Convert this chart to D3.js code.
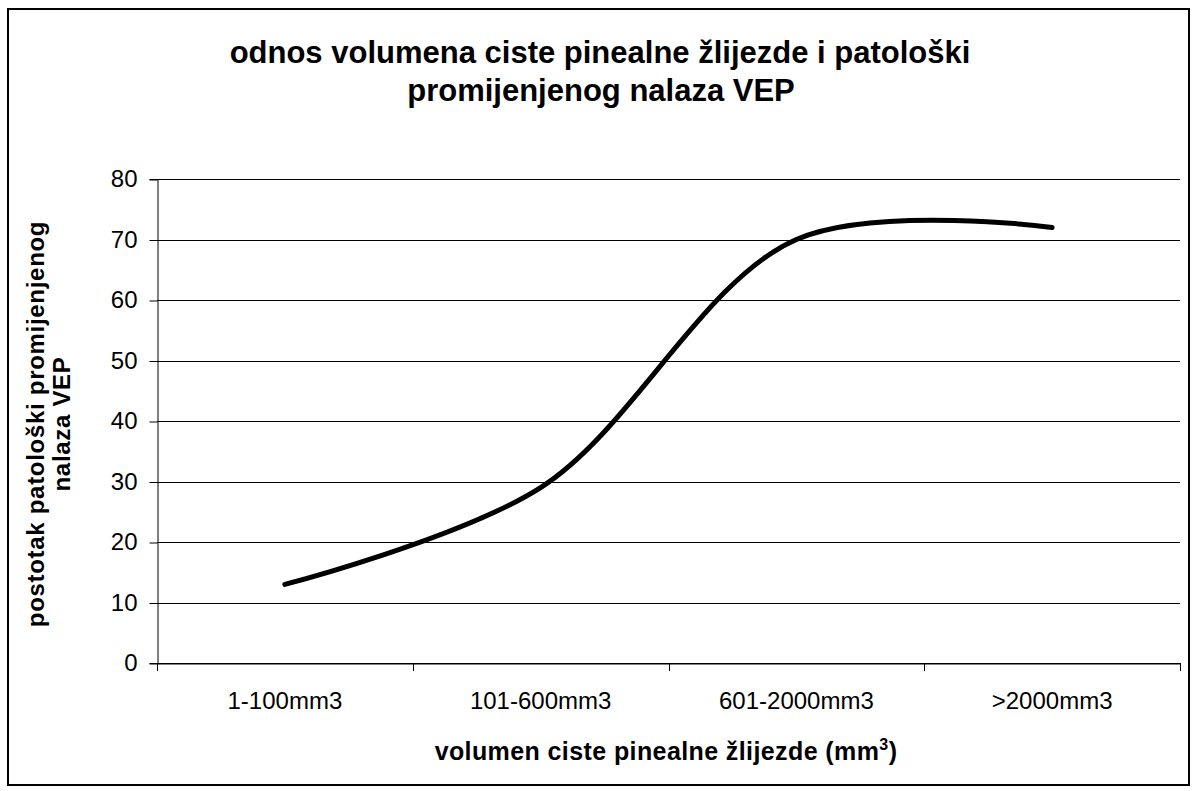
<!DOCTYPE html>
<html><head><meta charset="utf-8">
<script src="https://cdn.jsdelivr.net/npm/d3@7"></script>
<style>body{margin:0;background:#fff;}svg{display:block;font-family:"Liberation Sans",Arial,sans-serif;}</style>
</head><body>
<svg id="c" width="1196" height="791"></svg>
<script>
const categories = ["1-100mm3","101-600mm3","601-2000mm3",">2000mm3"];
const values = [13, 29, 70, 72];
const yTicks = [0,10,20,30,40,50,60,70,80];
const titleLines = ["odnos volumena ciste pinealne žlijezde i patološki","promijenjenog nalaza VEP"];
const yTitleLines = ["postotak patološki promijenjenog","nalaza VEP"];

const FONT = "Liberation Sans, Arial, sans-serif";
const svg = d3.select("#c");
svg.append("rect").attr("x",8).attr("y",9).attr("width",1181).attr("height",776)
  .attr("fill","#fff").attr("stroke","#000").attr("stroke-width",2);

const L=157,R=1180,T=179,B=663;
const x = d3.scaleBand().domain(categories).range([L,R]).padding(0);
const y = d3.scaleLinear().domain([0,80]).range([B,T]);

// gridlines
svg.append("g").selectAll("line").data(yTicks).join("line")
  .attr("x1",L).attr("x2",R).attr("y1",d=>Math.round(y(d))+0.5).attr("y2",d=>Math.round(y(d))+0.5)
  .attr("stroke","#000").attr("stroke-width",1);

// y axis
const ya = svg.append("g").attr("transform",`translate(${L+0.5},0)`)
  .call(d3.axisLeft(y).tickValues(yTicks).tickSize(8).tickPadding(12));
ya.select(".domain").attr("stroke","#000");
ya.selectAll(".tick line").attr("stroke","#000").attr("transform","translate(0,0.5)");
ya.selectAll("text").attr("font-size",24).attr("fill","#000").attr("font-family",FONT);

// x axis
const xa = svg.append("g").attr("transform",`translate(0,${Math.round(B)+0.5})`)
  .call(d3.axisBottom(x).tickSize(0).tickPadding(28));
xa.select(".domain").attr("stroke","#000");
xa.selectAll("text").attr("font-size",24).attr("fill","#000").attr("font-family",FONT);
const bounds = categories.map(c=>x(c)).concat([R]);
svg.append("g").selectAll("line").data(bounds).join("line")
  .attr("x1",d=>Math.round(d)+0.5).attr("x2",d=>Math.round(d)+0.5)
  .attr("y1",B).attr("y2",B+8).attr("stroke","#000");

// line
const line = d3.line().x((d,i)=>x(categories[i])+x.bandwidth()/2).y(d=>y(d)).curve(d3.curveCatmullRom.alpha(0.5));
svg.append("path").datum(values).attr("d",line).attr("fill","none")
  .attr("stroke","#000").attr("stroke-width",5).attr("stroke-linecap","round").attr("stroke-linejoin","round");

// title
svg.append("text").attr("x",600).attr("y",63).attr("text-anchor","middle")
  .attr("font-size",31).attr("font-weight","bold").text(titleLines[0]);
svg.append("text").attr("x",601).attr("y",101).attr("text-anchor","middle")
  .attr("font-size",31).attr("font-weight","bold").text(titleLines[1]);

// x title
const xt = svg.append("text").attr("x",666).attr("y",760).attr("text-anchor","middle")
  .attr("font-size",25).attr("font-weight","bold").attr("letter-spacing",0.4);
xt.append("tspan").text("volumen ciste pinealne žlijezde (mm");
xt.append("tspan").attr("font-size",16).attr("dy",-10).text("3");
xt.append("tspan").attr("dy",10).text(")");

// y title
yTitleLines.forEach((t,i)=>{
  svg.append("text").attr("transform",`translate(${44+i*26},424) rotate(-90)`)
    .attr("text-anchor","middle").attr("font-size",24).attr("font-weight","bold")
    .attr("letter-spacing",0.7).text(t);
});
</script>
</body></html>
